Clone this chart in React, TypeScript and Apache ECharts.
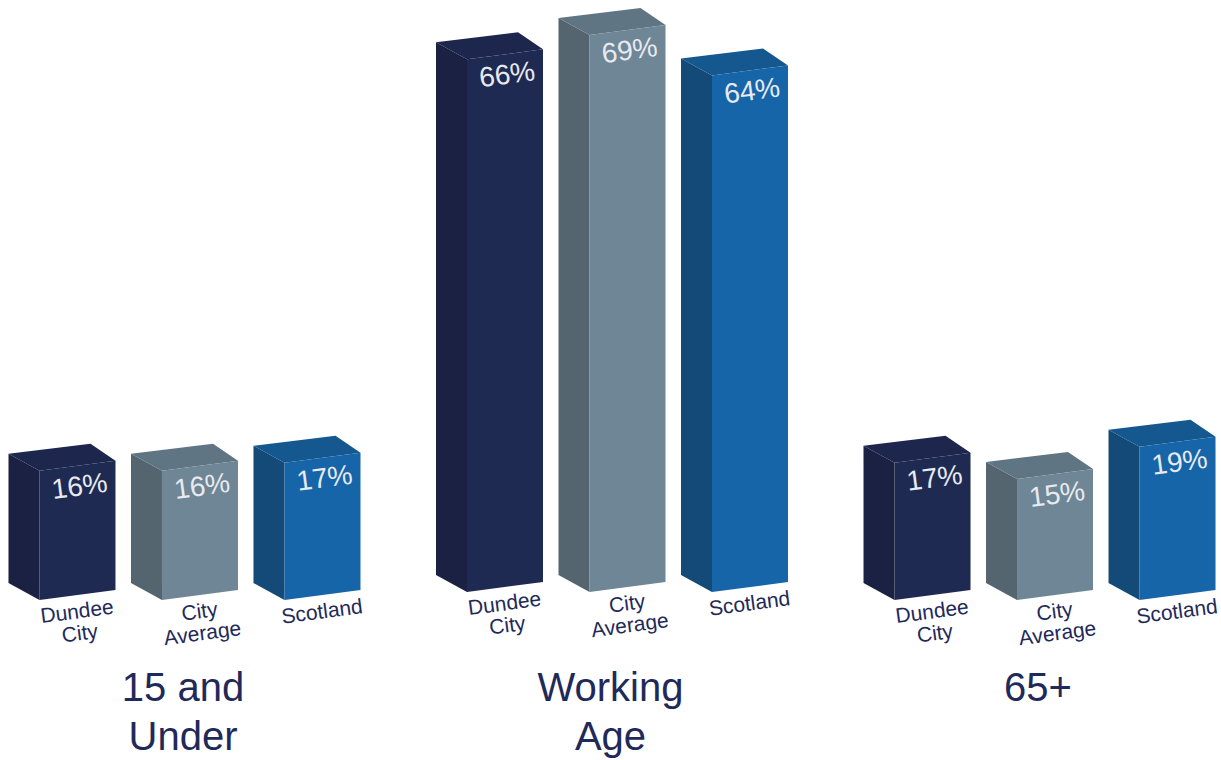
import React, { useEffect, useRef } from "react";
import * as echarts from "echarts";

// ---- data ----
const GROUPS = ["15 and\nUnder", "Working\nAge", "65+"];
const GROUP_INDEX = [0, 1, 2];
const ENTITIES = ["Dundee\nCity", "City\nAverage", "Scotland"];
const DUNDEE_CITY = [16, 66, 17];
const CITY_AVERAGE = [16, 69, 15];
const SCOTLAND = [17, 64, 19];

// ---- styles ----
const FRONT = ["#1f2a52", "#6e8695", "#1665a8"];
const SIDE = ["#1a2142", "#55656f", "#134a78"];
const TOP = ["#1d264c", "#607583", "#15578f"];
const NAVY = "#1f2a5a";
const FONT = "'Liberation Sans', Arial, sans-serif";

// layout constants (pixels)
const BAR_STEP = 122.5;
const FRONT_W = 76;
const SLOPE = 10;
const DEPTH_X = 31;
const DEPTH_Y = 17;
const GROUP_LIFT = [0, 8, 0];

export default function App() {
  const ref = useRef<HTMLDivElement>(null);

  useEffect(() => {
    if (!ref.current) return;
    const chart = echarts.init(ref.current, undefined, { renderer: "svg" });
    const seriesValues = [DUNDEE_CITY, CITY_AVERAGE, SCOTLAND];

    const renderItem = (params: any, api: any) => {
      const s = params.seriesIndex;
      const gi = api.value(0);
      const v = api.value(1);
      const base = api.coord([gi, 0]);
      const top = api.coord([gi, v]);
      const lift = GROUP_LIFT[gi] || 0;
      const xL = base[0] + (s - 1) * BAR_STEP - 21;
      const yB = base[1] - lift;
      const yT = top[1] - lift;
      const W = FRONT_W;
      const rot = Math.atan2(SLOPE, W);
      const front = [
        [xL, yB],
        [xL + W, yB - SLOPE],
        [xL + W, yT - SLOPE],
        [xL, yT],
      ];
      const side = [
        [xL - DEPTH_X, yB - DEPTH_Y],
        [xL, yB],
        [xL, yT],
        [xL - DEPTH_X, yT - DEPTH_Y],
      ];
      const topFace = [
        [xL, yT],
        [xL + W, yT - SLOPE],
        [xL + W - DEPTH_X + 6, yT - SLOPE - DEPTH_Y],
        [xL - DEPTH_X, yT - DEPTH_Y],
      ];
      const cxFront = xL + W / 2;
      return {
        type: "group",
        children: [
          { type: "polygon", shape: { points: side }, style: { fill: SIDE[s] } },
          { type: "polygon", shape: { points: topFace }, style: { fill: TOP[s] } },
          { type: "polygon", shape: { points: front }, style: { fill: FRONT[s] } },
          {
            type: "text",
            x: cxFront + 2,
            y: yT - SLOPE / 2 + 20,
            rotation: rot,
            style: {
              text: v + "%",
              fill: "#e8eaf0",
              font: `28px ${FONT}`,
              align: "center",
              verticalAlign: "middle",
            },
          },
          {
            type: "text",
            x: cxFront - 2,
            y: yB - SLOPE / 2 + 5,
            rotation: rot,
            style: {
              text: ENTITIES[s],
              fill: NAVY,
              font: `21px ${FONT}`,
              lineHeight: 22,
              align: "center",
              verticalAlign: "top",
            },
          },
        ],
      };
    };

    chart.setOption({
      animation: false,
      backgroundColor: "#ffffff",
      grid: { left: 0, right: 0, top: 35, bottom: 158 },
      xAxis: {
        type: "value",
        min: -0.428,
        max: 2.428,
        splitLine: { show: false },
        axisLine: { show: false },
        axisTick: { show: false },
        axisLabel: {
          customValues: GROUP_INDEX,
          formatter: (val: number) => GROUPS[Math.round(val)] ?? "",
          color: NAVY,
          fontSize: 40,
          lineHeight: 49,
          fontFamily: FONT,
          margin: 62,
          hideOverlap: false,
        },
      },
      yAxis: { type: "value", min: 0, max: 70, show: false },
      series: seriesValues.map((vals, s) => ({
        type: "custom",
        name: ENTITIES[s],
        renderItem,
        data: vals.map((v, gi) => [GROUP_INDEX[gi], v]),
        clip: false,
      })),
    });
    return () => chart.dispose();
  }, []);

  return (
    <div
      ref={ref}
      style={{ position: "absolute", left: 0, top: 0, width: 1221, height: 760 }}
    />
  );
}
